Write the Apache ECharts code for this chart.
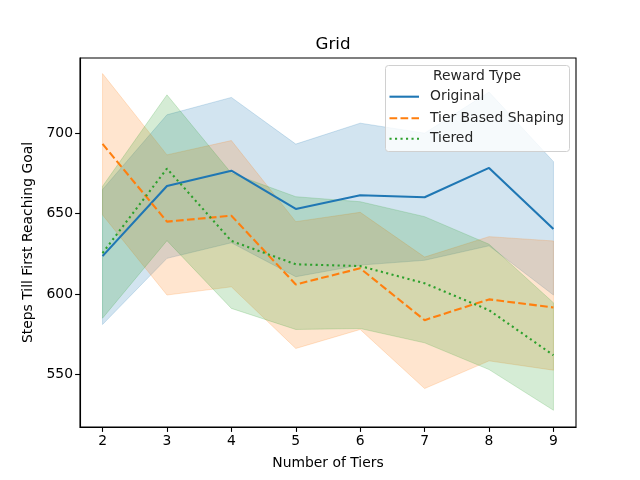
<!DOCTYPE html>
<html>
<head>
<meta charset="utf-8">
<script src="https://cdn.jsdelivr.net/npm/echarts@6/dist/echarts.min.js"></script>
<style>html,body{margin:0;padding:0;background:#fff}#c{width:640px;height:480px}</style>
</head>
<body>
<div id="c"></div>
<script>
const tiers = [2, 3, 4, 5, 6, 7, 8, 9];
const yTicks = [550, 600, 650, 700];

const originalMean  = [623.6, 667.2, 676.7, 652.9, 661.4, 660.2, 678.4, 640.4];
const originalUpper = [665.0, 711.4, 722.2, 693.2, 706.2, 700.0, 725.5, 682.3];
const originalLower = [581.1, 622.2, 631.9, 610.8, 618.0, 621.0, 630.0, 599.4];

const shapingMean  = [693.3, 645.0, 648.7, 606.0, 616.0, 583.8, 596.7, 591.7];
const shapingUpper = [737.0, 686.5, 695.4, 645.0, 650.8, 623.0, 635.7, 633.0];
const shapingLower = [649.2, 599.4, 604.5, 566.2, 578.0, 541.3, 558.5, 552.7];

const tieredMean  = [625.5, 678.0, 633.0, 618.5, 617.4, 606.7, 590.0, 562.0];
const tieredUpper = [667.0, 723.8, 675.1, 660.5, 657.4, 648.1, 631.0, 594.6];
const tieredLower = [585.0, 633.2, 591.1, 578.0, 578.6, 569.7, 553.1, 527.8];

const names = ['Original', 'Tier Based Shaping', 'Tiered'];
const colors = ['#1f77b4', '#ff7f0e', '#2ca02c'];
const dashes = ['solid', [7.7, 3.3], [2.1, 3.4]];
const means = [originalMean, shapingMean, tieredMean];
const uppers = [originalUpper, shapingUpper, tieredUpper];
const lowers = [originalLower, shapingLower, tieredLower];

function hexA(hex, a) {
  const r = parseInt(hex.slice(1,3),16), g = parseInt(hex.slice(3,5),16), b = parseInt(hex.slice(5,7),16);
  return 'rgba(' + r + ',' + g + ',' + b + ',' + a + ')';
}

const series = [];
names.forEach((n, i) => {
  series.push({
    name: n + ' band', type: 'custom', z: 10 + i,
    data: [0],
    renderItem: function (params, api) {
      const pts = [];
      for (let k = 0; k < tiers.length; k++) pts.push(api.coord([tiers[k], uppers[i][k]]));
      for (let k = tiers.length - 1; k >= 0; k--) pts.push(api.coord([tiers[k], lowers[i][k]]));
      return { type: 'polygon', shape: { points: pts },
        style: { fill: hexA(colors[i], 0.2), stroke: hexA(colors[i], 0.2), lineWidth: 1 } };
    },
    animation: false, silent: true
  });
});
names.forEach((n, i) => {
  series.push({
    name: n, type: 'line', z: 20 + i,
    data: tiers.map((t, k) => [t, means[i][k]]),
    showSymbol: false, symbol: 'none',
    lineStyle: { color: colors[i], width: 2.1, type: dashes[i] },
    itemStyle: { color: colors[i] },
    animation: false
  });
});

const legendY = [96.7, 118.3, 138.7];
const graphics = [
  { type: 'rect', shape: { x: 385.5, y: 65.5, width: 184, height: 86, r: 3 },
    style: { fill: 'rgba(255,255,255,0.8)', stroke: '#d0d0d0', lineWidth: 1 }, z: 100 },
  { type: 'text', style: { text: 'Reward Type', x: 477, y: 76, align: 'center', verticalAlign: 'middle',
    font: '13.9px "DejaVu Sans"', fill: '#262626' }, z: 101 }
];
names.forEach((n, i) => {
  graphics.push({ type: 'line', shape: { x1: 389.5, y1: legendY[i], x2: 419, y2: legendY[i] },
    style: { stroke: colors[i], lineWidth: 2.1, lineDash: dashes[i] === 'solid' ? null : dashes[i] }, z: 101 });
  graphics.push({ type: 'text', style: { text: n, x: 430, y: legendY[i], verticalAlign: 'middle',
    font: '13.9px "DejaVu Sans"', fill: '#262626' }, z: 101 });
});

const chart = echarts.init(document.getElementById('c'), null, { renderer: 'canvas' });
chart.setOption({
  animation: false,
  backgroundColor: '#fff',
  textStyle: { fontFamily: 'DejaVu Sans' },
  title: { text: 'Grid', left: 328, top: 31, textAlign: 'center',
    textStyle: { fontSize: 16.7, fontWeight: 'normal', color: '#000', fontFamily: 'DejaVu Sans' } },
  grid: { left: 80, right: 64, top: 58, bottom: 53, show: true, borderColor: '#000', borderWidth: 1.1, backgroundColor: 'transparent' },
  xAxis: {
    type: 'value', min: 1.65, max: 9.35,
    name: 'Number of Tiers', nameLocation: 'middle', nameGap: 29,
    nameTextStyle: { fontSize: 13.9, color: '#000', fontFamily: 'DejaVu Sans' },
    axisLine: { show: true, lineStyle: { color: '#000', width: 1.1 } },
    axisTick: { show: true, length: 4.9, lineStyle: { color: '#000', width: 1.1 }, customValues: tiers },
    axisLabel: { fontSize: 13.9, color: '#000', margin: 7, customValues: tiers, fontFamily: 'DejaVu Sans' },
    splitLine: { show: false }
  },
  yAxis: {
    type: 'value', min: 517.4, max: 746.7,
    name: 'Steps Till First Reaching Goal', nameLocation: 'middle', nameGap: 42,
    nameTextStyle: { fontSize: 13.9, color: '#000', fontFamily: 'DejaVu Sans' },
    axisLine: { show: true, lineStyle: { color: '#000', width: 1.1 } },
    axisTick: { show: true, length: 4.9, lineStyle: { color: '#000', width: 1.1 }, customValues: yTicks },
    axisLabel: { fontSize: 13.9, color: '#000', margin: 7, customValues: yTicks, fontFamily: 'DejaVu Sans' },
    splitLine: { show: false }
  },
  series: series,
  graphic: graphics
});
</script>
</body>
</html>
